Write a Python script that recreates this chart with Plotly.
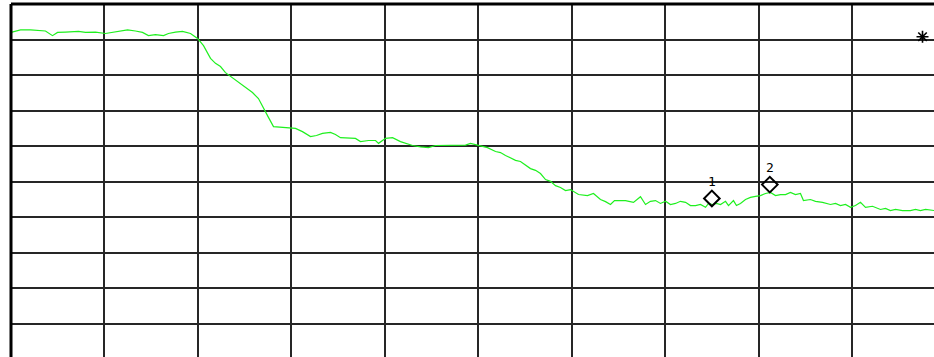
import plotly.graph_objects as go

# Trace point index (0..1000 across 10 divisions) and amplitude (dB, 10 dB/div, ref 0 at top)
freq_pts = [0, 10.2, 20.9, 31.6, 36.9, 44.4, 49.8, 58.3, 65.8, 72.2, 79.7, 90.4, 101.1, 108.6,
            117.2, 124.7, 133.2, 140.7, 147.1, 154.6, 163.2, 168.5, 176.0, 183.5, 192.1, 199.6,
            206.0, 213.5, 218.8, 224.2, 229.5, 237.0, 243.4, 250.9, 258.4, 264.8, 270.2, 275.5,
            280.9, 288.4, 295.9, 304.4, 311.9, 320.5, 326.9, 333.3, 341.9, 347.2, 352.6, 361.1,
            368.6, 374.0, 382.6, 390.1, 393.3, 400.8, 408.3, 416.8, 422.2, 429.7, 438.2, 446.8,
            454.2, 464.9, 475.6, 486.4, 491.7, 497.1, 502.4, 509.9, 518.5, 523.8, 529.2, 539.9,
            545.2, 550.6, 555.9, 561.3, 566.6, 572.0, 577.3, 582.7, 588.0, 593.4, 598.7, 607.3,
            616.9, 623.3, 630.8, 636.2, 641.5, 645.8, 652.2, 657.6, 666.1, 673.6, 679.0, 684.3,
            689.7, 695.0, 700.4, 705.7, 711.1, 716.4, 721.8, 727.1, 732.5, 737.8, 743.2, 746.4,
            750.7, 754.9, 759.2, 764.6, 767.8, 773.1, 776.3, 780.6, 786.0, 791.3, 796.7, 802.0,
            807.4, 812.7, 818.1, 823.4, 828.8, 834.1, 839.5, 844.8, 848.0, 855.5, 860.9, 868.4,
            876.9, 882.3, 887.6, 893.0, 898.3, 903.7, 909.0, 914.4, 921.9, 930.4, 935.8, 941.1,
            946.5, 954.0, 962.5, 967.9, 973.2, 978.6, 988.2]
level_db = [-8.0, -7.3, -7.3, -7.5, -7.6, -8.9, -8.0, -7.9, -7.9, -7.7, -8.0, -7.9, -8.3, -8.0,
            -7.5, -7.3, -7.6, -8.0, -8.9, -8.6, -8.9, -8.3, -7.9, -7.7, -8.3, -9.7,
            -11.7, -15.3, -16.7, -17.6, -19.3, -20.7, -22.1, -23.5, -24.9, -26.6, -29.1, -31.9,
            -34.5, -34.7, -34.9, -35.0, -35.9, -37.3, -37.0, -36.4, -36.1, -36.7, -37.6, -37.6,
            -37.8, -38.7, -38.4, -38.4, -39.2, -37.8, -37.6, -38.7, -39.2, -39.8, -40.2, -40.4,
            -39.8, -39.8, -39.8, -39.7, -39.2, -39.5, -39.9, -40.4, -41.5, -41.8, -42.6, -44.0,
            -44.3, -45.4, -46.3, -46.8, -47.7, -49.4, -49.9, -51.1, -51.6, -52.5, -52.2, -53.6,
            -53.9, -53.3, -55.0, -55.6, -56.4, -55.3, -55.3, -55.3, -55.8, -54.2, -56.4, -55.5,
            -55.3, -56.1, -55.5, -56.4, -56.1, -55.5, -55.8, -56.7, -56.7, -56.4, -57.2, -56.1,
            -56.4, -56.1, -56.4, -55.5, -56.7, -55.3, -56.7, -56.1, -55.0, -54.4, -54.1, -53.9,
            -53.3, -53.0, -53.9, -53.6, -53.6, -53.0, -53.6, -53.3, -55.3, -55.0, -55.5, -55.8,
            -56.4, -56.1, -56.7, -56.4, -57.2, -56.7, -55.8, -57.2, -56.9, -57.8, -57.5, -58.1,
            -57.8, -58.1, -58.1, -57.8, -58.1, -57.8, -58.1]

# Marker diamonds and their numbers
marker_x = [750, 812]
marker_y = [-54.7, -50.8]
marker_names = ["1", "2"]

# Asterisk indicator position
star_x = [975.4]
star_y = [-9.2]

x_visible = [0, 987.7]
y_visible = [-99.3, 0]

fig = go.Figure()
fig.add_trace(go.Scatter(x=freq_pts, y=level_db, mode="lines",
                         line=dict(color="#1ff01f", width=1.2), hoverinfo="skip"))
fig.add_trace(go.Scatter(x=marker_x, y=marker_y, mode="markers",
                         marker=dict(symbol="diamond-open", size=12, color="black",
                                     line=dict(width=2, color="black")),
                         hoverinfo="skip"))
fig.add_trace(go.Scatter(x=star_x, y=star_y, mode="markers",
                         marker=dict(symbol="asterisk-open", size=10, color="black",
                                     line=dict(width=1.6, color="black")),
                         hoverinfo="skip"))

for mx, my, name in zip(marker_x, marker_y, marker_names):
    fig.add_annotation(x=mx, y=my, text=name, showarrow=False, yshift=17,
                       font=dict(family="DejaVu Sans Mono", size=13, color="black"))

# Heavy frame on left and top edges
fig.add_shape(type="line", xref="paper", yref="paper", x0=0, x1=0, y0=0, y1=1,
              line=dict(color="black", width=3))
fig.add_shape(type="line", xref="paper", yref="paper", x0=0, x1=1, y0=1, y1=1,
              line=dict(color="black", width=3))

fig.update_layout(
    width=934, height=357,
    margin=dict(l=11, r=0, t=4, b=0),
    paper_bgcolor="white", plot_bgcolor="white",
    showlegend=False,
    xaxis=dict(range=x_visible, dtick=100, tick0=0, showgrid=True, gridcolor="#262626",
               gridwidth=2, showticklabels=False, zeroline=False, showline=False, ticks=""),
    yaxis=dict(range=y_visible, dtick=10, tick0=0, showgrid=True, gridcolor="#262626",
               gridwidth=2, showticklabels=False, zeroline=False, showline=False, ticks=""),
)

fig.write_html("out.html")
